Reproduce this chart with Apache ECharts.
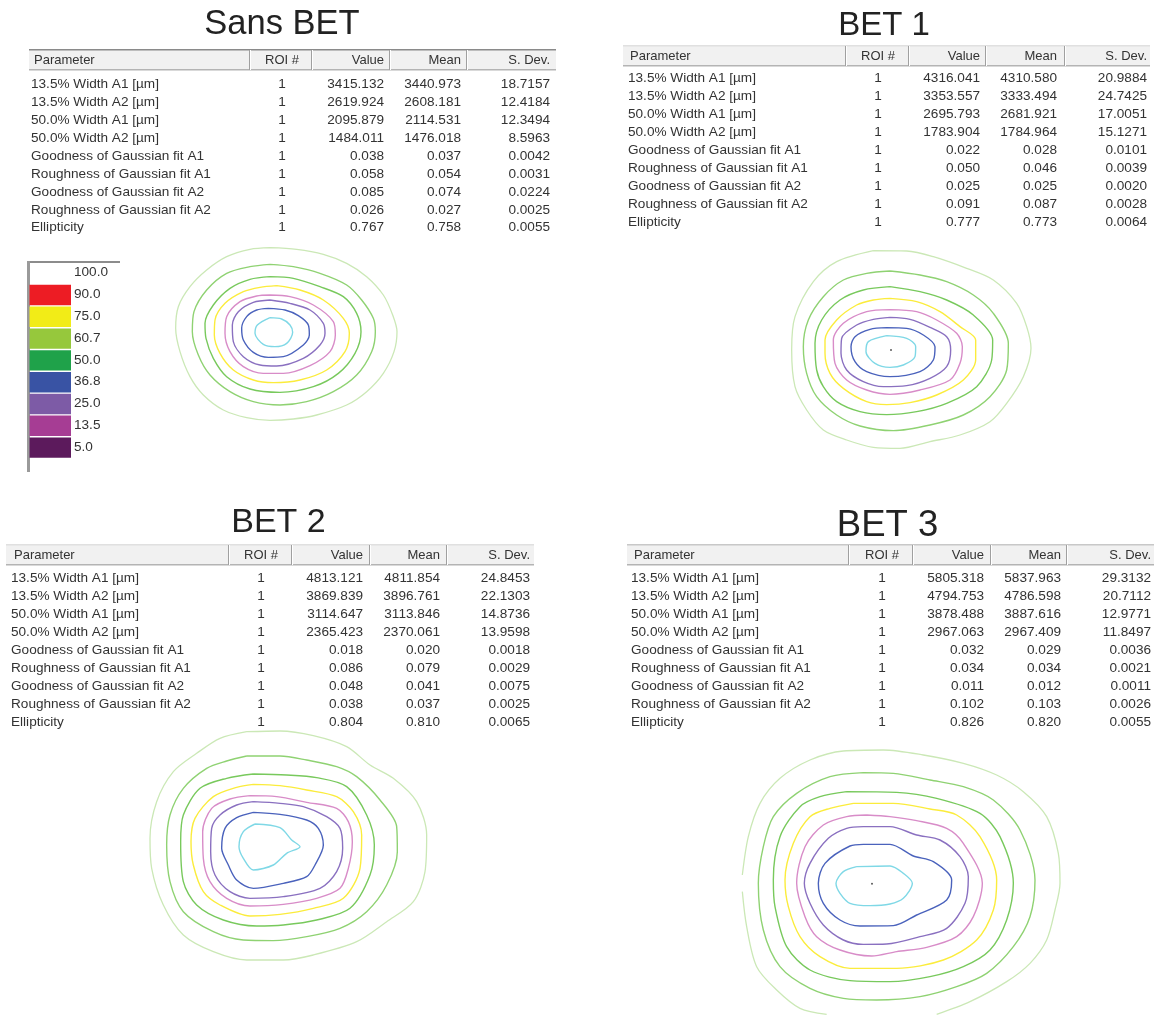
<!DOCTYPE html>
<html><head><meta charset="utf-8">
<style>html,body{margin:0;padding:0;background:#fff}#c{width:1163px;height:1015px}</style>
<script src="https://cdn.jsdelivr.net/npm/echarts@6/dist/echarts.min.js"></script>
</head><body><div id="c"></div>
<script>
// ---------- table text ----------
const parameters = ['13.5% Width A1 [µm]','13.5% Width A2 [µm]','50.0% Width A1 [µm]','50.0% Width A2 [µm]','Goodness of Gaussian fit A1','Roughness of Gaussian fit A1','Goodness of Gaussian fit A2','Roughness of Gaussian fit A2','Ellipticity'];
const headers = ['Parameter','ROI #','Value','Mean','S. Dev.'];
const roi = ['1','1','1','1','1','1','1','1','1'];
const titles = ['Sans BET','BET 1','BET 2','BET 3'];

const value0 = ['3415.132','2619.924','2095.879','1484.011','0.038','0.058','0.085','0.026','0.767'];
const mean0  = ['3440.973','2608.181','2114.531','1476.018','0.037','0.054','0.074','0.027','0.758'];
const sdev0  = ['18.7157','12.4184','12.3494','8.5963','0.0042','0.0031','0.0224','0.0025','0.0055'];
const value1 = ['4316.041','3353.557','2695.793','1783.904','0.022','0.050','0.025','0.091','0.777'];
const mean1  = ['4310.580','3333.494','2681.921','1784.964','0.028','0.046','0.025','0.087','0.773'];
const sdev1  = ['20.9884','24.7425','17.0051','15.1271','0.0101','0.0039','0.0020','0.0028','0.0064'];
const value2 = ['4813.121','3869.839','3114.647','2365.423','0.018','0.086','0.048','0.038','0.804'];
const mean2  = ['4811.854','3896.761','3113.846','2370.061','0.020','0.079','0.041','0.037','0.810'];
const sdev2  = ['24.8453','22.1303','14.8736','13.9598','0.0018','0.0029','0.0075','0.0025','0.0065'];
const value3 = ['5805.318','4794.753','3878.488','2967.063','0.032','0.034','0.011','0.102','0.826'];
const mean3  = ['5837.963','4786.598','3887.616','2967.409','0.029','0.034','0.012','0.103','0.820'];
const sdev3  = ['29.3132','20.7112','12.9771','11.8497','0.0036','0.0021','0.0011','0.0026','0.0055'];

// ---------- legend ----------
const legendLabels = ['100.0','90.0','75.0','60.7','50.0','36.8','25.0','13.5','5.0'];
const legendColors = [null,'#ed1c24','#f2ec17','#96c83c','#1fa24a','#3953a4','#7d5ba6','#a63d94','#5c1a5c'];

// ---------- contour colours, outermost first ----------
const contourColors = ['#cbe8b6','#8fd272','#78c95c','#fbec3c','#d88cc8','#8a70c0','#4a62bc','#7fd8e6'];

// ---------- contours, in beam-profile units ----------
const sansBetContours = [
 [[300,8],[380,13],[460,28],[530,55],[590,95],[640,150],[668,210],[681,260],[672,320],[640,385],[590,440],[530,480],[440,510],[370,522],[300,526],[230,518],[160,495],[100,450],[60,395],[30,320],[17,250],[25,185],[60,125],[110,75],[170,35],[240,13],[300,8]],
 [[300,58],[370,65],[450,85],[530,120],[575,165],[610,220],[616,260],[605,320],[560,390],[490,440],[410,470],[330,480],[250,470],[180,440],[120,390],[85,330],[67,260],[72,200],[110,135],[170,85],[240,65],[300,58]],
 [[300,95],[370,100],[450,125],[520,155],[560,205],[573,260],[555,325],[505,385],[430,425],[330,442],[240,432],[170,395],[130,340],[108,280],[105,235],[130,180],[180,130],[240,103],[300,95]],
 [[320,122],[390,135],[460,165],[520,220],[538,265],[525,320],[470,375],[390,405],[310,413],[250,405],[190,375],[150,325],[133,270],[135,225],[165,175],[220,140],[270,127],[320,122]],
 [[300,150],[360,155],[430,180],[490,230],[496,270],[480,320],[420,362],[340,385],[280,385],[220,365],[180,320],[165,265],[170,215],[210,170],[260,153],[300,150]],
 [[300,165],[360,175],[420,195],[460,235],[465,265],[450,300],[400,340],[320,363],[270,360],[220,335],[190,290],[187,240],[205,200],[250,172],[300,165]],
 [[295,190],[345,195],[385,212],[415,240],[418,270],[400,300],[340,335],[295,337],[250,322],[220,285],[215,250],[230,215],[260,195],[295,190]],
 [[300,218],[335,222],[360,240],[368,262],[350,295],[315,305],[280,298],[255,265],[262,240],[300,218]]
];
const bet1Contours = [
 [[340,32],[440,33],[520,50],[620,85],[700,120],[770,190],[800,260],[813,325],[790,410],[740,490],[690,545],[600,585],[510,605],[420,625],[340,622],[260,600],[190,570],[140,510],[105,440],[95,330],[105,230],[160,125],[230,65],[340,32]],
 [[390,93],[480,105],[560,125],[640,165],[700,220],[745,310],[740,390],[690,470],[610,525],[510,555],[400,572],[300,558],[230,525],[170,470],[140,400],[130,320],[145,240],[190,170],[250,120],[320,100],[390,93]],
 [[390,140],[480,155],[560,180],[640,225],[698,300],[695,360],[650,440],[560,490],[470,515],[380,524],[300,515],[230,485],[190,440],[170,390],[165,310],[185,240],[240,180],[310,150],[390,140]],
 [[390,175],[470,185],[540,215],[600,260],[647,300],[647,360],[610,420],[530,465],[450,488],[380,494],[320,485],[250,445],[210,400],[195,340],[195,300],[230,240],[290,195],[340,180],[390,175]],
 [[390,209],[470,215],[530,240],[590,280],[607,320],[600,370],[570,420],[480,450],[390,463],[320,450],[260,420],[225,370],[220,300],[250,250],[320,215],[390,209]],
 [[390,232],[450,238],[510,262],[560,290],[572,330],[560,380],[510,415],[440,437],[370,440],[310,425],[260,390],[243,340],[245,295],[290,255],[340,238],[390,232]],
 [[380,263],[440,265],[490,285],[525,320],[520,360],[480,395],[390,410],[320,395],[285,365],[273,320],[285,290],[330,268],[380,263]],
 [[380,287],[440,295],[467,320],[465,350],[430,375],[390,382],[345,370],[318,335],[325,305],[380,287]]
];
const bet2Contours = [
 [[320,20],[420,18],[520,32],[620,65],[690,120],[760,160],[830,230],[860,330],[855,440],[820,530],[740,590],[650,650],[520,690],[430,705],[320,705],[220,680],[130,630],[70,540],[35,430],[30,340],[50,230],[100,140],[170,85],[240,40],[320,20]],
 [[320,93],[420,93],[500,105],[590,125],[650,155],[720,225],[770,305],[772,380],[740,480],[680,560],[600,610],[500,635],[400,647],[310,645],[220,620],[130,560],[90,470],[80,360],[90,270],[130,190],[200,130],[260,108],[320,93]],
 [[340,147],[440,150],[530,158],[620,185],[680,270],[703,360],[690,450],[630,550],[530,585],[430,600],[350,603],[250,585],[170,540],[130,470],[122,350],[130,270],[180,190],[260,160],[340,147]],
 [[340,178],[420,182],[500,195],[590,215],[640,260],[665,330],[660,430],[610,520],[520,550],[420,568],[330,573],[240,540],[190,500],[160,420],[153,350],[165,280],[220,215],[290,187],[340,178]],
 [[330,212],[410,215],[500,232],[590,250],[625,290],[637,350],[625,430],[600,490],[530,520],[430,538],[330,543],[260,520],[210,470],[190,400],[188,320],[215,250],[270,222],[330,212]],
 [[340,230],[420,235],[490,245],[560,275],[600,310],[608,370],[590,440],[540,490],[430,515],[330,520],[270,500],[225,450],[212,380],[215,310],[240,270],[290,240],[340,230]],
 [[340,262],[420,268],[500,285],[535,310],[550,360],[525,420],[500,455],[430,475],[340,490],[290,465],[265,420],[245,370],[255,310],[290,278],[340,262]],
 [[345,297],[420,308],[455,345],[480,365],[440,385],[400,420],[340,435],[310,400],[297,365],[310,320],[345,297]]
];
const gap = ['-','-'];
const bet3Contours = [
 [[37,455],[50,560],[80,680],[140,750],[210,805],[290,823],gap,[620,823],[720,785],[830,725],[900,670],[950,600],[975,510],[990,430],[985,340],[950,230],[880,155],[800,105],[700,70],[580,45],[460,30],[340,33],[240,60],[150,115],[90,190],[55,290],[37,405]],
 [[400,98],[490,100],[600,120],[700,140],[790,180],[870,270],[915,420],[900,530],[850,620],[770,700],[680,740],[570,770],[440,780],[340,775],[240,745],[150,680],[100,570],[85,430],[100,320],[130,230],[200,160],[300,110],[400,98]],
 [[350,155],[500,157],[620,175],[750,220],[810,290],[850,430],[830,540],[780,630],[700,680],[600,710],[480,725],[360,722],[240,690],[170,620],[135,500],[130,420],[150,290],[210,200],[270,170],[350,155]],
 [[370,190],[490,190],[600,207],[680,225],[750,290],[800,420],[790,510],[740,600],[640,660],[500,685],[360,685],[270,650],[210,590],[175,500],[165,420],[190,310],[240,230],[300,205],[370,190]],
 [[410,225],[480,230],[560,242],[650,265],[700,310],[757,430],[730,530],[680,590],[590,622],[500,635],[425,648],[330,630],[260,590],[225,530],[200,430],[225,320],[280,255],[350,230],[410,225]],
 [[400,260],[480,260],[560,285],[630,300],[690,350],[715,410],[705,490],[650,565],[570,590],[470,612],[400,613],[340,600],[280,555],[240,490],[223,430],[240,370],[295,295],[350,265],[400,260]],
 [[400,313],[480,313],[550,348],[610,365],[665,420],[650,480],[560,525],[490,557],[390,558],[330,540],[280,490],[265,430],[285,370],[360,318],[400,313]],
 [[380,380],[480,378],[520,400],[547,430],[520,475],[480,492],[420,497],[360,490],[330,460],[318,430],[340,395],[380,380]]
];
const centreDots = [null,[393,330],null,[426,431]];

// ---------- layout ----------
const panels = [
 {title:[277,19,34.5], head:[29,556,49,70], topLine:'#8a8a8a', seps:[249,311,389,466], headX:34, textX:31, roiX:282, cols:[384,461,550], rowY:84.5, step:17.9, plot:[170,245,235,180], c:sansBetContours, v:value0,m:mean0,s:sdev0},
 {title:[879,20.5,33], head:[623,1150,45,66], topLine:'#e0e0e0', seps:[845,908,985,1064], headX:630, textX:628, roiX:878, cols:[980,1057,1147], rowY:78.5, step:18, plot:[760,240,280,240], c:bet1Contours, v:value1,m:mean1,s:sdev1},
 {title:[273.5,517.5,34], head:[6,534,544,565], topLine:'#e0e0e0', seps:[228,291,369,446], headX:14, textX:11, roiX:261, cols:[363,440,530], rowY:578.5, step:18, plot:[140,725,300,280], c:bet2Contours, v:value2,m:mean2,s:sdev2},
 {title:[882.5,521,36.5], head:[627,1154,544,565], topLine:'#c8c8c8', seps:[848,912,990,1066], headX:634, textX:631, roiX:882, cols:[984,1061,1151], rowY:578.5, step:18, plot:[730,740,340,275], c:bet3Contours, v:value3,m:mean3,s:sdev3}
];
const FONT = '"Liberation Sans", Arial, sans-serif';
const TXT = '#333333';
const chart = echarts.init(document.getElementById('c'), null, {renderer:'canvas'});
const graphic = [];
function text(x,y,t,align,fs,fill){ graphic.push({type:'text',silent:true,x:x,y:y,style:{text:t,fill:fill||TXT,font:(fs||13)+'px '+FONT,textAlign:align||'left',textVerticalAlign:'middle'}}); }
function rect(x,y,w,h,fill){ graphic.push({type:'rect',silent:true,shape:{x:x,y:y,width:w,height:h},style:{fill:fill}}); }

const grids=[],xAxes=[],yAxes=[],series=[],titleOpts=[];
panels.forEach((p,i)=>{
  titleOpts.push({text:titles[i],left:p.title[0],top:p.title[1],textAlign:'center',textVerticalAlign:'middle',textStyle:{fontFamily:FONT,fontWeight:'normal',fontSize:p.title[2],color:'#222222'}});
  const [l,r,t,b]=p.head;
  rect(l,t,r-l,b-t,'#f1f1f1');
  rect(l,t,r-l,1.5,p.topLine);
  rect(l,b-1,r-l,1.5,'#b4b4b4');
  p.seps.forEach(x=>{rect(x,t+1,1,b-t-1,'#a0a0a0');rect(x+1,t+1,1,b-t-1,'#ffffff');});
  const hy=(t+b)/2+1;
  text(p.headX,hy,headers[0],'left',13);
  text(p.roiX,hy,headers[1],'center',13);
  text(p.cols[0],hy,headers[2],'right',13);
  text(p.cols[1],hy,headers[3],'right',13);
  text(p.cols[2],hy,headers[4],'right',13);
  parameters.forEach((name,k)=>{
    const y=p.rowY+k*p.step;
    text(p.textX,y,name,'left',13.6);
    text(p.roiX,y,roi[k],'center',13.6);
    text(p.cols[0],y,p.v[k],'right',13.6);
    text(p.cols[1],y,p.m[k],'right',13.6);
    text(p.cols[2],y,p.s[k],'right',13.6);
  });
  const [gl,gt,gw,gh]=p.plot;
  grids.push({left:gl,top:gt,width:gw,height:gh,containLabel:false,show:false});
  xAxes.push({type:'value',gridIndex:i,min:0,max:gw*3,show:false});
  yAxes.push({type:'value',gridIndex:i,min:0,max:gh*3,inverse:true,show:false});
  p.c.forEach((pts,k)=>series.push({type:'line',xAxisIndex:i,yAxisIndex:i,data:pts,showSymbol:false,symbol:'none',smooth:0.3,connectNulls:false,clip:false,silent:true,lineStyle:{color:contourColors[k],width:k===0?1.3:1.4}}));
  if(centreDots[i]) series.push({type:'scatter',xAxisIndex:i,yAxisIndex:i,data:[centreDots[i]],symbolSize:2,silent:true,itemStyle:{color:'#333'}});
});

// legend scale
rect(27,261,93,2,'#8c8c8c');
rect(27,261,3,211,'#9a9a9a');
legendLabels.forEach((lab,k)=>{
  const top=262.7+k*21.8;
  if(legendColors[k]) rect(29.5,top+0.3,41.5,20.4,legendColors[k]);
  text(74,top+10,lab,'left',13.6,'#333');
});

chart.setOption({animation:false,backgroundColor:'#fff',title:titleOpts,grid:grids,xAxis:xAxes,yAxis:yAxes,series:series,graphic:graphic,tooltip:{show:false}});
</script></body></html>
